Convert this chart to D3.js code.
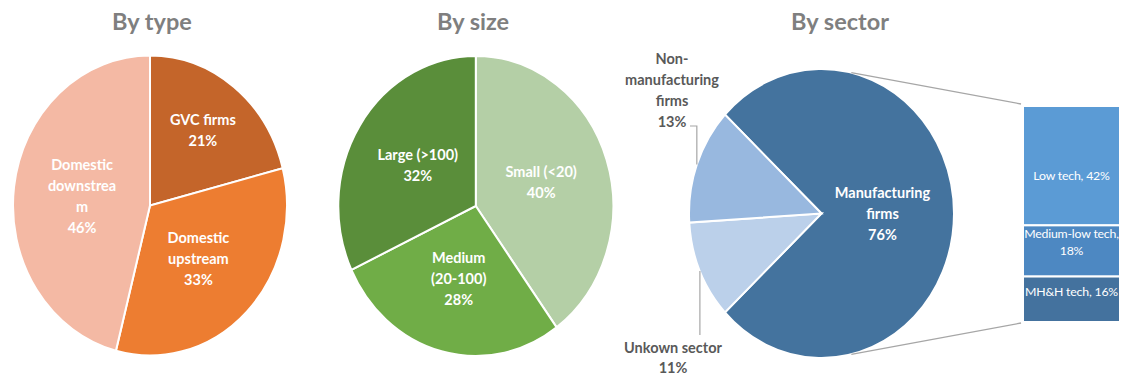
<!DOCTYPE html>
<html>
<head>
<meta charset="utf-8">
<script src="https://cdn.jsdelivr.net/npm/d3@7/dist/d3.min.js"></script>
<style>
  html, body { margin: 0; padding: 0; background: #fff; }
  svg { display: block; font-family: Lato, "Open Sans", sans-serif; }
</style>
</head>
<body>
<svg id="chart" width="1121" height="376"></svg>
<script>
// ---- Data ----
const typeCategories = ["GVC firms", "Domestic upstream", "Domestic downstream"];
const typeLabelLines = [["GVC firms"], ["Domestic", "upstream"], ["Domestic", "downstrea", "m"]];
const typeValues = [21, 33, 46];

const sizeCategories = ["Small (<20)", "Medium (20-100)", "Large (>100)"];
const sizeLabelLines = [["Small (<20)"], ["Medium", "(20-100)"], ["Large (>100)"]];
const sizeValues = [40, 28, 32];

const sectorCategories = ["Manufacturing firms", "Unkown sector", "Non-manufacturing firms"];
const sectorLabelLines = [["Manufacturing", "firms"], ["Unkown sector"], ["Non-", "manufacturing", "firms"]];
const sectorValues = [76, 11, 13];

const techCategories = ["Low tech", "Medium-low tech", "MH&H tech"];
const techLabelLines = [["Low tech, 42%"], ["Medium-low tech,", "18%"], ["MH&H tech, 16%"]];
const techValues = [42, 18, 16];

const titles = ["By type", "By size", "By sector"];

// ---- Drawing ----
const svg = d3.select("#chart");
const fmtPct = v => v + "%";

// Title text
function title(text, x) {
  svg.append("text")
    .attr("x", x).attr("y", 30)
    .attr("text-anchor", "middle")
    .attr("font-size", 23.5).attr("font-weight", 700)
    .attr("fill", "#7f7f7f")
    .text(text);
}

// Multi-line text block centred vertically on (x, y)
function textBlock(g, lines, x, y, opts) {
  const lh = opts.lineHeight;
  const t = g.append("text")
    .attr("text-anchor", "middle")
    .attr("font-size", opts.size)
    .attr("font-weight", opts.weight)
    .attr("letter-spacing", opts.spacing || 0)
    .attr("fill", opts.fill);
  const n = lines.length;
  lines.forEach((ln, i) => {
    t.append("tspan")
      .attr("x", x)
      .attr("y", y + (i - (n - 1) / 2) * lh + opts.size * 0.35)
      .text(ln);
  });
  return t;
}

// Elliptical pie: arcs are drawn on a circle of radius rx and stretched vertically
function ellipsePie(cfg) {
  const pie = d3.pie().sort(null).value(d => d)
    .startAngle(cfg.start).endAngle(cfg.start + 2 * Math.PI);
  const arcs = pie(cfg.values);
  const arc = d3.arc().innerRadius(0).outerRadius(cfg.rx);
  const g = svg.append("g").attr("transform", `translate(${cfg.cx},${cfg.cy})`);
  const sy = cfg.ry / cfg.rx;
  g.append("g").attr("transform", `scale(1,${sy})`)
    .selectAll("path").data(arcs).join("path")
    .attr("d", arc)
    .attr("fill", (d, i) => cfg.colors[i])
    .attr("stroke", "#fff")
    .attr("stroke-width", 2)
    .attr("vector-effect", "non-scaling-stroke");
  // point on the ellipse at angle a (clockwise from 12 o'clock), fraction f of radius
  const pt = (a, f) => [Math.sin(a) * cfg.rx * f, -Math.cos(a) * cfg.ry * f];
  return { g, arcs, pt };
}

const white = { size: 14.5, weight: 700, fill: "#fff", lineHeight: 21 };
const grey = { size: 14.5, weight: 700, fill: "#595959", lineHeight: 21 };

// By type
title(titles[0], 152);
{
  const p = ellipsePie({ cx: 150, cy: 205.5, rx: 137, ry: 150, start: 0,
    values: typeValues, colors: ["#c4652a", "#ed7d31", "#f4b9a4"] });
  const labelR = [0.63, 0.5, 0.5];
  p.arcs.forEach((d, i) => {
    const a = (d.startAngle + d.endAngle) / 2;
    const [x, y] = p.pt(a, labelR[i]);
    textBlock(p.g, typeLabelLines[i].concat(fmtPct(typeValues[i])), x, y, white);
  });
}

// By size
title(titles[1], 473);
{
  const p = ellipsePie({ cx: 475.8, cy: 206, rx: 137.5, ry: 150, start: 0,
    values: sizeValues, colors: ["#b4cfa6", "#70ad47", "#5a8e3a"] });
  p.arcs.forEach((d, i) => {
    const a = (d.startAngle + d.endAngle) / 2;
    const [x, y] = p.pt(a, 0.5);
    textBlock(p.g, sizeLabelLines[i].concat(fmtPct(sizeValues[i])), x, y, white);
  });
}

// By sector (bar of pie)
title(titles[2], 840);
{
  const total = d3.sum(sectorValues);
  // split slice centred on the right-hand side
  const start = Math.PI / 2 - Math.PI * sectorValues[0] / total;
  const cfg = { cx: 821.5, cy: 213.5, rx: 132.5, ry: 144.5, start,
    values: sectorValues, colors: ["#44739e", "#bbd0ea", "#98b8df"] };
  const p = ellipsePie(cfg);

  // inside label for the split slice
  {
    const d = p.arcs[0];
    const [x, y] = p.pt((d.startAngle + d.endAngle) / 2, 0.46);
    textBlock(p.g, sectorLabelLines[0].concat(fmtPct(sectorValues[0])), x, y, white);
  }

  // outside labels with leader lines
  const leader = p.g.append("g").attr("fill", "none").attr("stroke", "#a6a6a6").attr("stroke-width", 1.2);
  {
    // Unknown sector: label below the pie
    const d = p.arcs[1];
    const [x0, y0] = p.pt((d.startAngle + d.endAngle) / 2, 1);
    leader.append("path").attr("d", `M${x0},${y0}V${335 - cfg.cy}`);
    textBlock(p.g, sectorLabelLines[1].concat(fmtPct(sectorValues[1])), 673 - cfg.cx, 357.5 - cfg.cy,
      { ...grey, lineHeight: 20 });
  }
  {
    // Non-manufacturing: label above-left of the pie
    const d = p.arcs[2];
    const [x0, y0] = p.pt((d.startAngle + d.endAngle) / 2, 1);
    leader.append("path").attr("d", `M${x0},${y0}V${126 - cfg.cy}H${690 - cfg.cx}`);
    textBlock(p.g, sectorLabelLines[2].concat(fmtPct(sectorValues[2])), 672 - cfg.cx, 90 - cfg.cy, grey);
  }

  // stacked bar breaking down the manufacturing slice
  const barX = 1023, barW = 97;
  const y = d3.scaleLinear().domain([0, d3.sum(techValues)]).range([106, 322]);
  const cum = d3.cumsum([0].concat(techValues));
  const techColors = ["#5b9bd5", "#4d88c2", "#44729e"];
  const labelShift = [10, -9, -8];
  const bars = svg.append("g");
  bars.selectAll("rect").data(techValues).join("rect")
    .attr("x", barX)
    .attr("y", (v, i) => y(cum[i]))
    .attr("width", barW)
    .attr("height", v => y(v) - y(0))
    .attr("fill", (v, i) => techColors[i])
    .attr("stroke", "#fff").attr("stroke-width", 2);
  techValues.forEach((v, i) => {
    const cy = (y(cum[i]) + y(cum[i + 1])) / 2 + labelShift[i];
    textBlock(bars, techLabelLines[i], barX + barW / 2, cy,
      { size: 12.3, weight: 400, fill: "#fff", lineHeight: 16.5, spacing: -0.2 });
  });

  // connector lines from the pie to the bar
  const a = 13 * Math.PI / 180;
  const top = p.pt(a, 1), bot = p.pt(Math.PI - a, 1);
  const conn = svg.append("g").attr("stroke", "#a6a6a6").attr("stroke-width", 1.3);
  conn.append("line")
    .attr("x1", cfg.cx + top[0]).attr("y1", cfg.cy + top[1])
    .attr("x2", barX - 2).attr("y2", y(0) - 2);
  conn.append("line")
    .attr("x1", cfg.cx + bot[0]).attr("y1", cfg.cy + bot[1])
    .attr("x2", barX - 2).attr("y2", y(d3.sum(techValues)) + 1);
}
</script>
</body>
</html>
